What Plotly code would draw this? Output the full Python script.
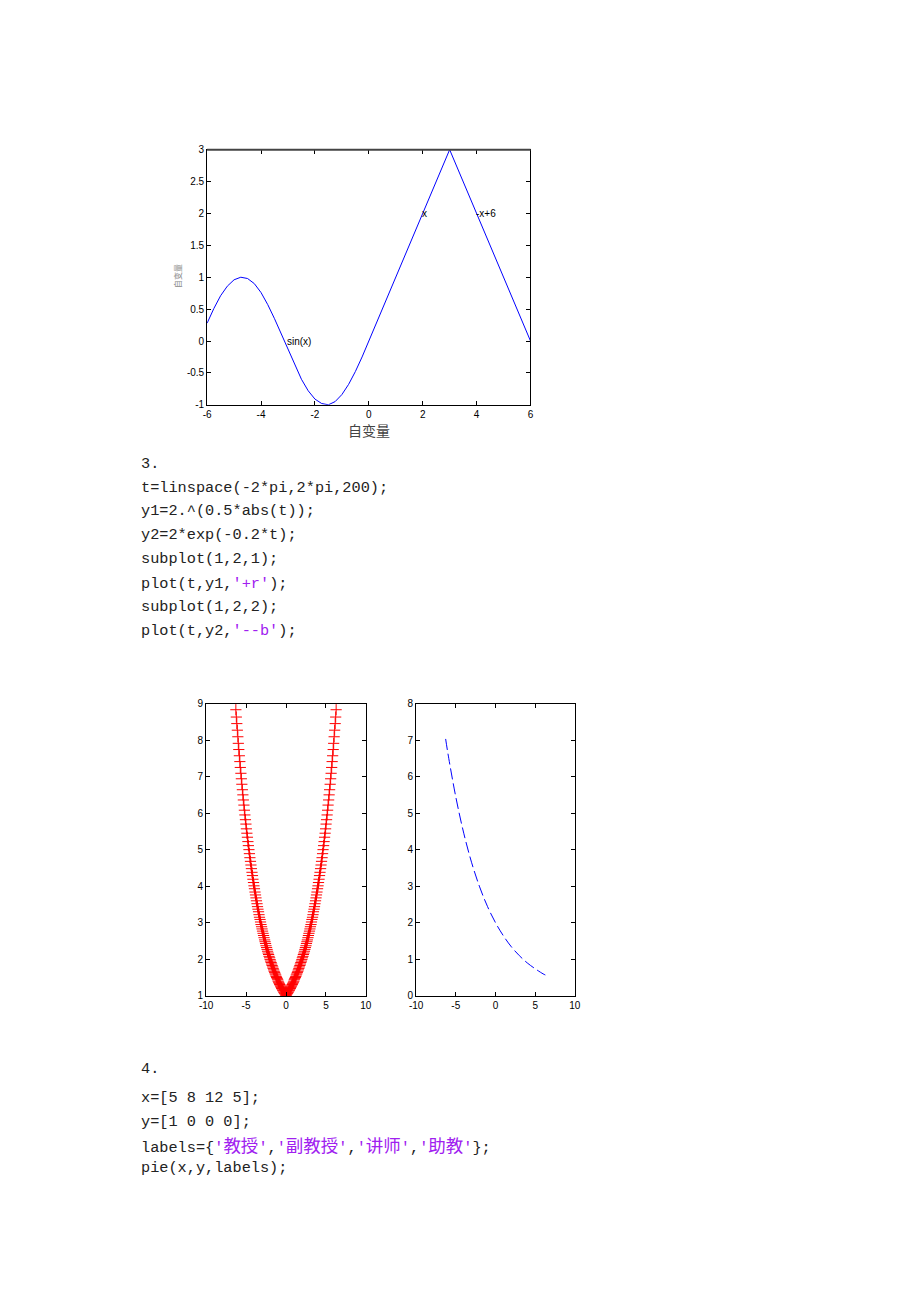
import re

import plotly.graph_objects as go

# --- top plot: sin(x) / x / -x+6 piecewise curve ---
top_x = [-6, -5.75, -5.5, -5.25, -5, -4.75, -4.5, -4.25, -4, -3.75, -3.5, -3.25, -3,
         -2.75, -2.5, -2.25, -2, -1.75, -1.5, -1.25, -1, -0.75, -0.5, -0.25, 0, 3, 6]
top_y = [0.28, 0.51, 0.71, 0.86, 0.96, 1.0, 0.98, 0.9, 0.76, 0.57, 0.35, 0.11, -0.14,
         -0.38, -0.6, -0.78, -0.91, -0.98, -1.0, -0.95, -0.84, -0.68, -0.48, -0.25, 0, 3, 0]
top_labels = ['sin(x)', 'x', '-x+6']
top_label_x = [-3, 2, 4]
top_label_y = [0, 2, 2]

# tick labels (MATLAB prints a plain hyphen for the minus sign)
top_xticks = [-6, -4, -2, 0, 2, 4, 6]
top_xtext = ['-6', '-4', '-2', '0', '2', '4', '6']
top_yticks = [-1, -0.5, 0, 0.5, 1, 1.5, 2, 2.5, 3]
top_ytext = ['-1', '-0.5', '0', '0.5', '1', '1.5', '2', '2.5', '3']
sub_xticks = [-10, -5, 0, 5, 10]
sub_xtext = ['-10', '-5', '0', '5', '10']

# --- subplot(1,2,1): y1 = 2.^(0.5*abs(t)), one half of the symmetric set ---
t_half = [0.03, 0.09, 0.16, 0.22, 0.28, 0.35, 0.41, 0.47, 0.54, 0.60,
          0.66, 0.73, 0.79, 0.85, 0.92, 0.98, 1.04, 1.10, 1.17, 1.23,
          1.29, 1.36, 1.42, 1.48, 1.55, 1.61, 1.67, 1.74, 1.80, 1.86,
          1.93, 1.99, 2.05, 2.12, 2.18, 2.24, 2.31, 2.37, 2.43, 2.50,
          2.56, 2.62, 2.68, 2.75, 2.81, 2.87, 2.94, 3.00, 3.06, 3.13,
          3.19, 3.25, 3.32, 3.38, 3.44, 3.51, 3.57, 3.63, 3.70, 3.76,
          3.82, 3.88, 3.95, 4.01, 4.07, 4.14, 4.20, 4.26, 4.33, 4.39,
          4.45, 4.52, 4.58, 4.64, 4.71, 4.77, 4.83, 4.90, 4.96, 5.02,
          5.08, 5.15, 5.21, 5.27, 5.34, 5.40, 5.46, 5.53, 5.59, 5.65,
          5.72, 5.78, 5.84, 5.91, 5.97, 6.03, 6.09, 6.16, 6.22, 6.28]
y1_half = [1.01, 1.03, 1.06, 1.08, 1.10, 1.13, 1.15, 1.18, 1.20, 1.23,
           1.26, 1.29, 1.31, 1.34, 1.37, 1.40, 1.44, 1.47, 1.50, 1.53,
           1.57, 1.60, 1.64, 1.67, 1.71, 1.75, 1.79, 1.83, 1.87, 1.91,
           1.95, 1.99, 2.04, 2.08, 2.13, 2.17, 2.22, 2.27, 2.32, 2.37,
           2.43, 2.48, 2.53, 2.59, 2.65, 2.71, 2.77, 2.83, 2.89, 2.95,
           3.02, 3.09, 3.15, 3.22, 3.30, 3.37, 3.44, 3.52, 3.60, 3.68,
           3.76, 3.84, 3.93, 4.01, 4.10, 4.19, 4.29, 4.38, 4.48, 4.58,
           4.68, 4.78, 4.89, 5.00, 5.11, 5.22, 5.34, 5.45, 5.57, 5.70,
           5.82, 5.95, 6.08, 6.22, 6.36, 6.50, 6.64, 6.79, 6.94, 7.09,
           7.25, 7.41, 7.57, 7.74, 7.91, 8.09, 8.27, 8.45, 8.63, 8.83]
t1 = [-v for v in reversed(t_half)] + t_half
y1 = list(reversed(y1_half)) + y1_half

# --- subplot(1,2,2): y2 = 2*exp(-0.2*t) ---
t2 = [-6.28, -6, -5, -4, -3, -2, -1, 0, 1, 2, 3, 4, 5, 6, 6.28]
y2 = [7.03, 6.64, 5.44, 4.45, 3.64, 2.98, 2.44, 2.0, 1.64, 1.34, 1.10, 0.90, 0.74, 0.60, 0.57]

# --- code text of the page ---
code3 = ["3.",
         "t=linspace(-2*pi,2*pi,200);",
         "y1=2.^(0.5*abs(t));",
         "y2=2*exp(-0.2*t);",
         "subplot(1,2,1);",
         "plot(t,y1,'+r');",
         "subplot(1,2,2);",
         "plot(t,y2,'--b');"]
code3_y = [462, 486, 510, 534, 558, 583, 607, 631]
code4 = ["4.",
         "x=[5 8 12 5];",
         "y=[1 0 0 0];",
         "labels={'教授','副教授','讲师','助教'};",
         "pie(x,y,labels);"]
code4_y = [1073, 1102, 1126, 1149, 1173]

W, H = 920, 1302
PURPLE = '#A020F0'
MONO = 'Liberation Mono, Courier New, monospace'
CJK = 'Noto Sans CJK SC'


def is_cjk(ch):
    return '\u4e00' <= ch <= '\u9fff'


def markup(line):
    # colour quoted strings like the MATLAB editor, give CJK glyphs a wider font
    segs = []
    pos = 0
    for m in re.finditer(r"'[^']*'", line):
        if m.start() > pos:
            segs.append((line[pos:m.start()], False))
        segs.append((m.group(0), True))
        pos = m.end()
    if pos < len(line):
        segs.append((line[pos:], False))
    out = ''
    for text, purple in segs:
        run = ''
        run_cjk = None
        pieces = []
        for ch in text:
            c = is_cjk(ch)
            if run_cjk is None or c == run_cjk:
                run += ch
            else:
                pieces.append((run, run_cjk))
                run = ch
            run_cjk = c
        if run:
            pieces.append((run, run_cjk))
        for p, c in pieces:
            style = []
            if purple:
                style.append('color:%s' % PURPLE)
            if c:
                style.append('font-family:%s' % CJK)
                style.append('font-size:17.5px')
            if style:
                out += '<span style="%s">%s</span>' % (';'.join(style), p)
            else:
                out += p
    return out


fig = go.Figure()

fig.add_trace(go.Scatter(x=top_x, y=top_y, mode='lines', line=dict(color='#0000FF', width=1),
                         xaxis='x', yaxis='y', showlegend=False))
fig.add_trace(go.Scatter(x=t1, y=y1, mode='markers',
                         marker=dict(symbol='cross-thin', size=8, color='#FF0000',
                                     line=dict(color='#FF0000', width=1)),
                         xaxis='x2', yaxis='y2', showlegend=False))
fig.add_trace(go.Scatter(x=t2, y=y2, mode='lines', line=dict(color='#0000FF', width=1, dash='11px,4px', shape='spline'),
                         xaxis='x3', yaxis='y3', showlegend=False))

tick_font = dict(family='Liberation Sans, Arial', size=10, color='black')
ax = dict(showgrid=False, zeroline=False, showline=True, linecolor='black', linewidth=1,
          mirror='ticks', ticks='inside', ticklen=4, tickcolor='black', tickfont=tick_font)

fig.update_layout(
    width=W, height=H,
    margin=dict(l=0, r=0, t=0, b=0),
    paper_bgcolor='white', plot_bgcolor='white',
    hovermode=False,
    xaxis=dict(ax, domain=[203 / W, 531 / W], range=[-6, 6], tickvals=top_xticks, ticktext=top_xtext, anchor='y'),
    yaxis=dict(ax, domain=[1 - 402.5 / H, 1 - 145 / H], range=[-1, 3], tickvals=top_yticks, ticktext=top_ytext, anchor='x'),
    xaxis2=dict(ax, domain=[202 / W, 364 / W], range=[-10, 10], tickvals=sub_xticks, ticktext=sub_xtext, anchor='y2'),
    yaxis2=dict(ax, domain=[1 - 999 / H, 1 - 704 / H], range=[1, 9], dtick=1, anchor='x2'),
    xaxis3=dict(ax, domain=[415 / W, 576 / W], range=[-10, 10], tickvals=sub_xticks, ticktext=sub_xtext, anchor='y3'),
    yaxis3=dict(ax, domain=[1 - 999 / H, 1 - 704 / H], range=[0, 8], dtick=1, anchor='x3'),
)

# heavier top edge of the first plot, as in the picture
fig.add_shape(type='line', xref='x domain', yref='y domain', x0=0, x1=1, y0=1, y1=1,
              line=dict(color='#444444', width=2))

for txt, lx, ly in zip(top_labels, top_label_x, top_label_y):
    fig.add_annotation(x=lx, y=ly, xref='x', yref='y', text=txt, showarrow=False,
                       xanchor='left', yanchor='middle', xshift=-3,
                       font=dict(family='Liberation Sans, Arial', size=10, color='black'))

fig.add_annotation(x=367 / W, y=1 - 428 / H, xref='paper', yref='paper', text='自变量',
                   showarrow=False, xanchor='center', yanchor='middle',
                   font=dict(family=CJK, size=14, color='#444444'))
fig.add_annotation(x=173 / W, y=1 - 273 / H, xref='paper', yref='paper', text='自变量',
                   showarrow=False, textangle=-90, xanchor='center', yanchor='middle',
                   font=dict(family=CJK, size=8, color='#888888'))

for lines, ys in ((code3, code3_y), (code4, code4_y)):
    for line, yc in zip(lines, ys):
        fig.add_annotation(x=134 / W, y=1 - yc / H, xref='paper', yref='paper',
                           text=markup(line), showarrow=False, xanchor='left', yanchor='middle',
                           font=dict(family=MONO, size=15.25, color='#222222'))

# no default 8px page margin, so the figure sits at the window origin
fig.write_html("out.html", config={'displayModeBar': False},
               post_script="document.body.style.margin='0';")
